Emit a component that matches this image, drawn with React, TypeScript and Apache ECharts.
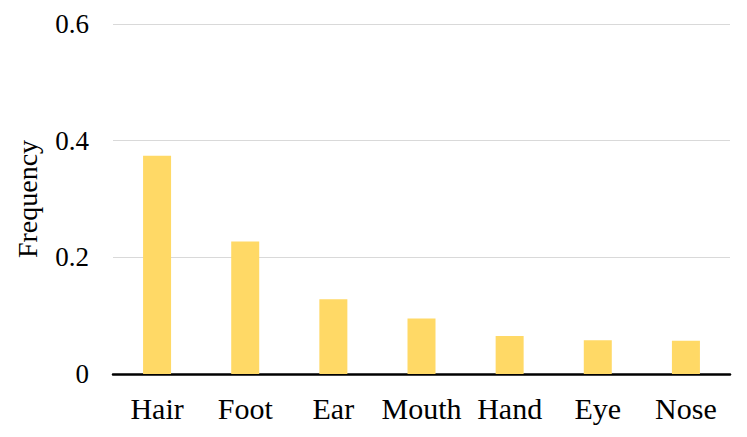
import React, { useEffect, useRef } from "react";
import * as echarts from "echarts";

const categories = ["Hair", "Foot", "Ear", "Mouth", "Hand", "Eye", "Nose"];
const frequency = [0.374, 0.227, 0.128, 0.095, 0.065, 0.058, 0.057];
const yTicks = { min: 0, max: 0.6, interval: 0.2 };

export default function App() {
  const ref = useRef<HTMLDivElement>(null);
  useEffect(() => {
    const chart = echarts.init(ref.current!, undefined, { renderer: "svg" });
    const font = "'Liberation Serif', 'Times New Roman', serif";
    chart.setOption({
      animation: false,
      grid: { left: 113, right: 17, top: 24, bottom: 63, containLabel: false },
      xAxis: {
        type: "category",
        data: categories,
        axisLine: { lineStyle: { color: "#000", width: 2.5 } },
        axisTick: { show: false },
        axisLabel: { color: "#000", fontFamily: font, fontSize: 30, margin: 19, interval: 0 },
      },
      yAxis: {
        type: "value",
        min: yTicks.min,
        max: yTicks.max,
        interval: yTicks.interval,
        name: "Frequency",
        nameLocation: "middle",
        nameGap: 72,
        nameTextStyle: { color: "#000", fontFamily: font, fontSize: 28 },
        axisLine: { show: false },
        axisTick: { show: false },
        splitLine: { lineStyle: { color: "#d9d9d9", width: 1 } },
        axisLabel: {
          color: "#000",
          fontFamily: font,
          fontSize: 27,
          margin: 24,
          formatter: (v: number) => (v === 0 ? "0" : String(Math.round(v * 10) / 10)),
        },
      },
      series: [
        {
          type: "bar",
          data: frequency,
          barWidth: 28,
          itemStyle: { color: "#FFD966" },
        },
      ],
    });
    return () => chart.dispose();
  }, []);
  return (
    <div
      ref={ref}
      style={{ position: "absolute", left: 0, top: 0, width: 747, height: 437 }}
    />
  );
}
